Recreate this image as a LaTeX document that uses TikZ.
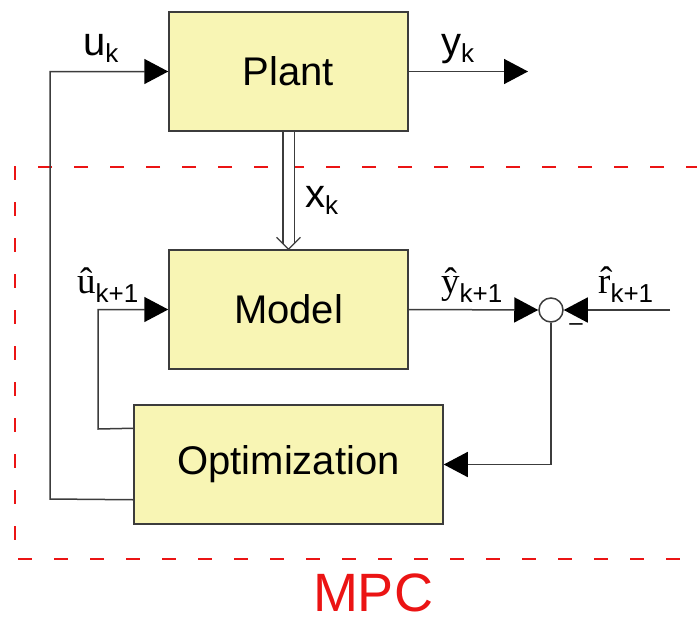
\documentclass[tikz,border=0pt]{standalone}
\usepackage{fontspec}
\setmainfont{Liberation Sans}
\newfontfamily\hatfont{Liberation Serif}
\usetikzlibrary{arrows.meta}
\definecolor{boxfill}{RGB}{248,245,180}
\definecolor{linegray}{RGB}{60,60,60}
\definecolor{mpcred}{RGB}{235,20,20}
\newcommand{\sig}[2]{#1\raisebox{-7pt}{\fontsize{26}{26}\selectfont #2}}
\newcommand{\hatsig}[2]{{\hatfont\fontsize{37}{40}\selectfont\^#1}\raisebox{-9pt}{\fontsize{26}{26}\selectfont #2}}
\tikzset{
	block/.style={draw=linegray, line width=1.5pt, fill=boxfill, minimum width=239pt, minimum height=119pt, font=\fontsize{40}{48}\selectfont},
	sig/.style={draw=linegray, line width=1.5pt, -{Triangle[length=24pt,width=25pt,color=black,fill=black]}},
	lbl/.style={inner sep=0pt, anchor=base west, font=\fontsize{40}{48}\selectfont},
}

\begin{document}
\begin{tikzpicture}[x=1pt,y=-1pt]
	\useasboundingbox (0,0) rectangle (697,619);
	\draw[mpcred, line width=1.2pt, dash pattern=on 14pt off 22pt] (700,167) -- (15,167) -- (15,559) -- (700,559);
	\node[text=mpcred, font=\fontsize{54}{60}\selectfont, anchor=base, inner sep=0pt, text depth=0pt] (mpc) at (373,611) {MPC};

	\node[block] (plant) at (288.5,71.5) {Plant};
	\node[block] (model) at (288.5,309.5) {Model};
	\node[block, minimum width=309pt] (opt) at (288.5,464.5) {Optimization};
	\node[draw=linegray, line width=1.5pt, fill=white, circle, minimum size=24pt, inner sep=0pt] (sum) at (551,310) {};

	\coordinate (ul) at (50,499);
	\coordinate (ml) at (98,429);
	\coordinate (yout) at (528,71.5);
	\coordinate (rin) at (670,310);

	\draw[sig] ([yshift=25pt]opt.south west) -- (ul) |- (plant.west);
	\draw[sig] (plant.east) -- (yout);
	\draw[sig] ([yshift=-24pt]opt.north west) -- (ml) |- (model.west);
	\draw[sig] (model.east) -- (sum.west);
	\draw[sig] (rin) -- (sum.east);
	\draw[sig] (sum.south) |- (opt.east);
	\draw[linegray, line width=1.2pt, double, double distance=10pt, shorten >=5.6pt] (plant.south) -- (model.north);
	\draw[linegray, line width=1.2pt] ([shift={(-12pt,12pt)}]model.north) -- (model.north) -- ([shift={(12pt,12pt)}]model.north);

	\node[lbl] (uk) at (83,55) {\sig{u}{k}};
	\node[lbl] (yk) at (441,55) {\sig{y}{k}};
	\node[lbl] (xk) at (305,207) {\sig{x}{k}};
	\node[lbl] (uhat) at (77,293) {\hatsig{u}{k+1}};
	\node[lbl] (yhat) at (441,293) {\hatsig{y}{k+1}};
	\node[lbl] (rhat) at (598,293) {\hatsig{r}{k+1}};
	\node[inner sep=0pt, font=\fontsize{24}{24}\selectfont] (minus) at (576,327) {--};
\end{tikzpicture}
\end{document}
